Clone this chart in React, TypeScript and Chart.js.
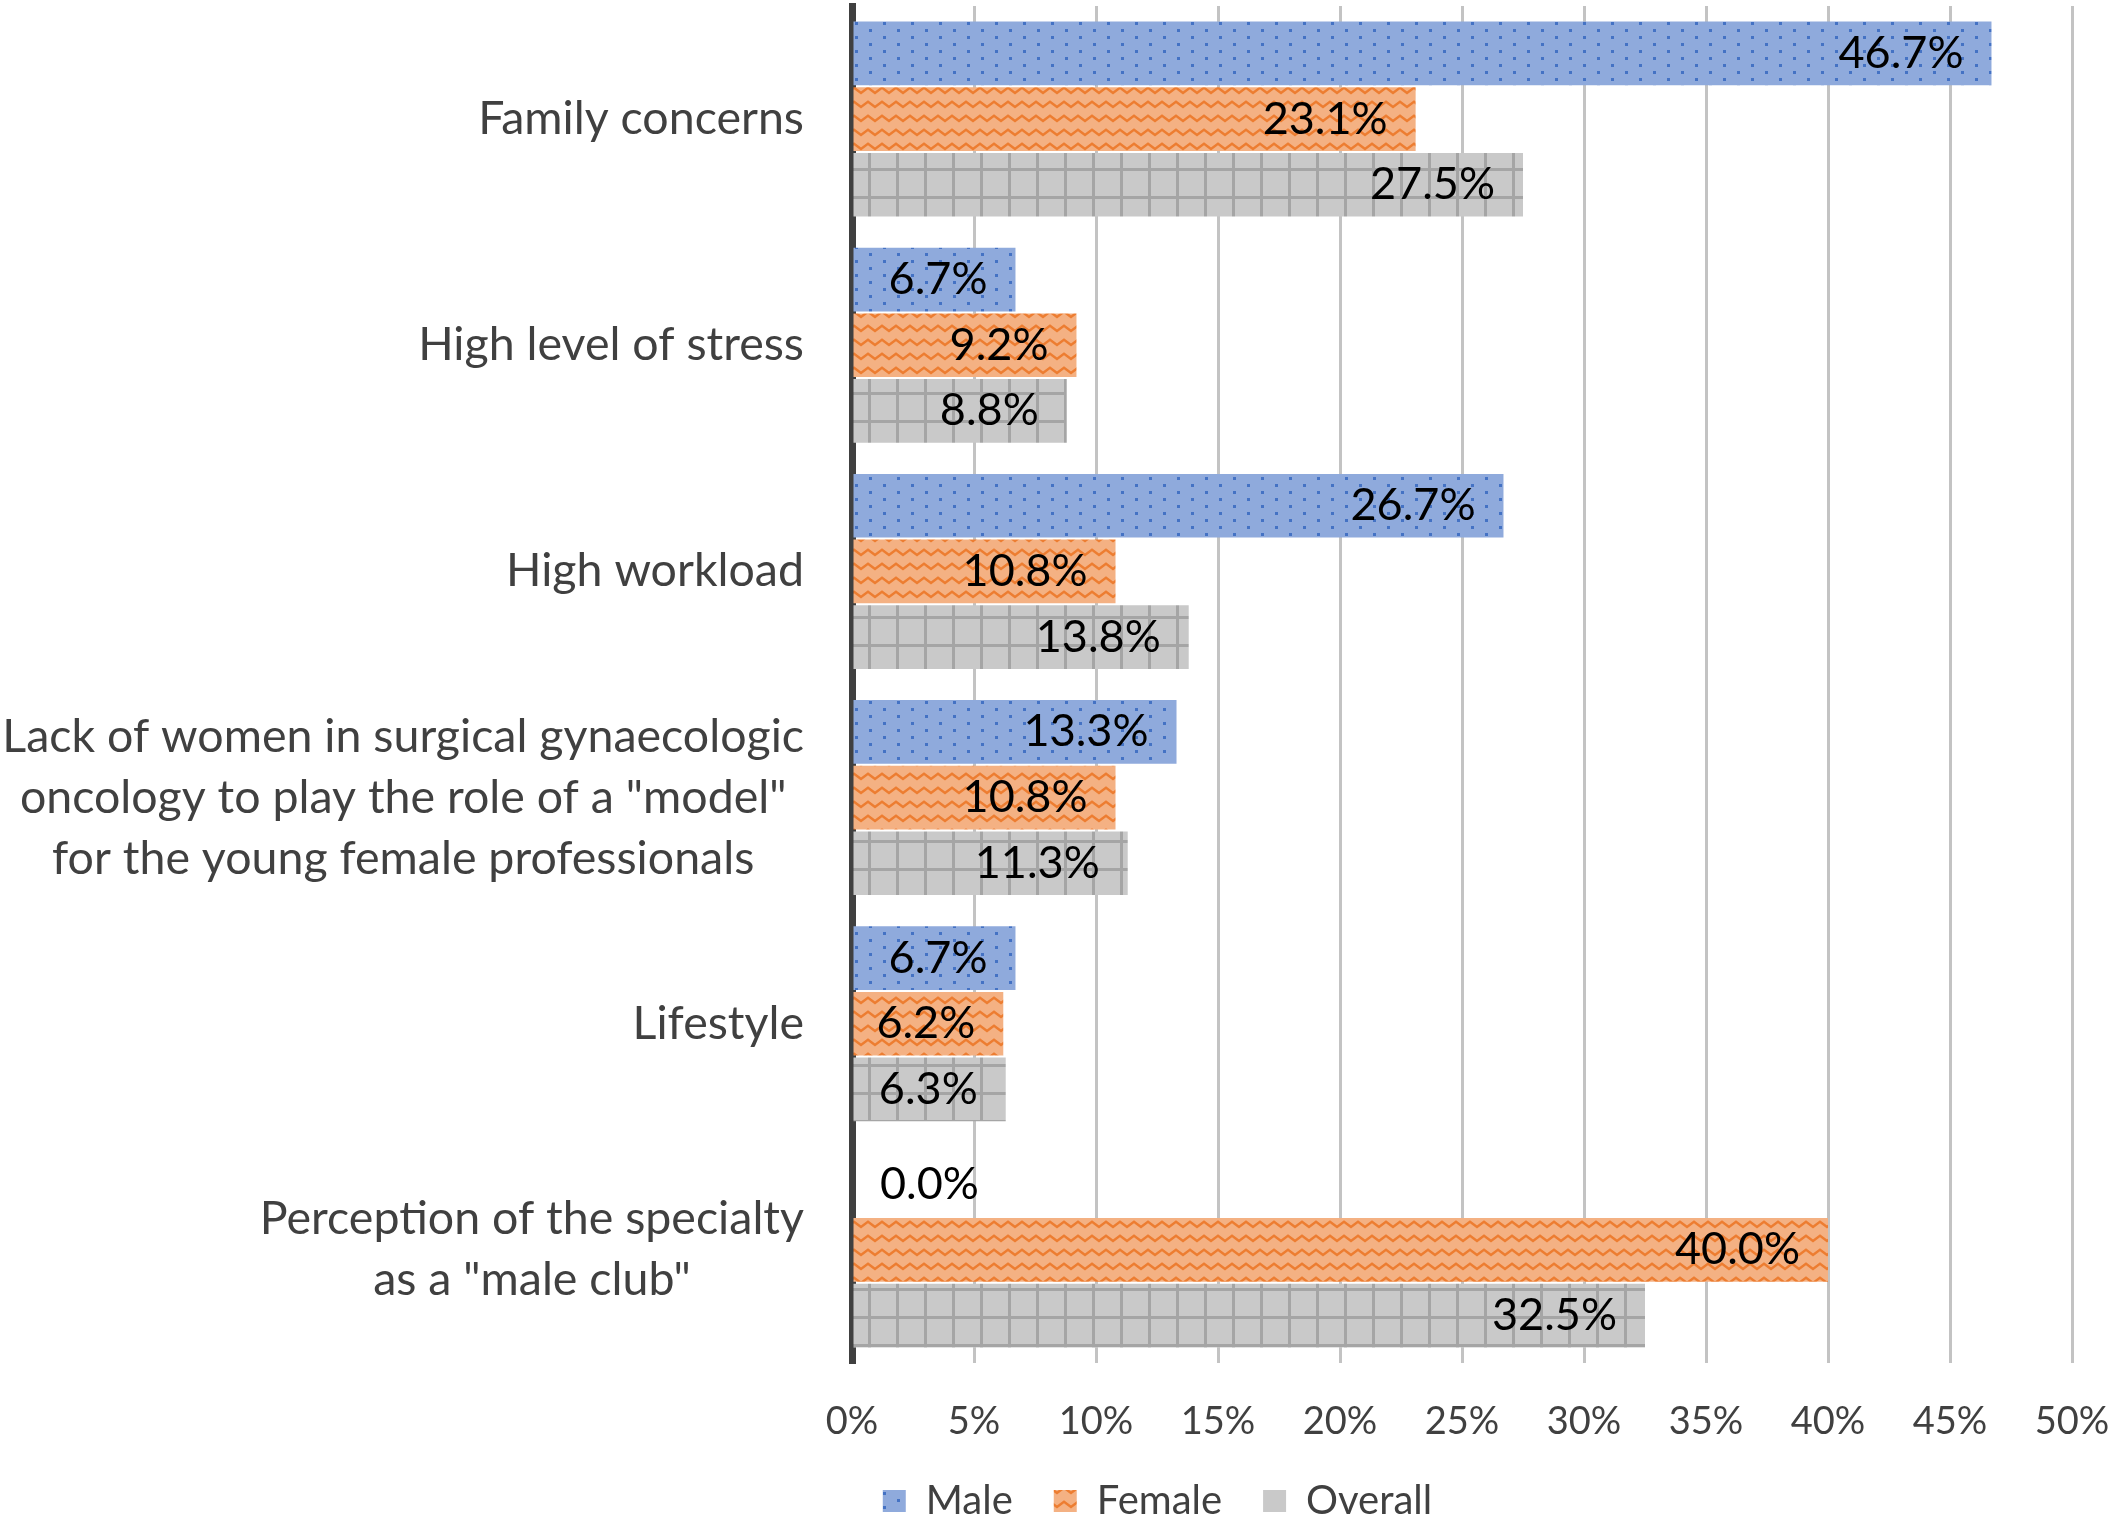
import React, { useEffect, useRef } from "react";
import { Chart, registerables, ChartConfiguration, Plugin } from "chart.js";

Chart.register(...registerables);

const categories: string[][] = [
  ["Family concerns"],
  ["High level of stress"],
  ["High workload"],
  [
    "Lack of women in surgical gynaecologic",
    'oncology to play the role of a "model"',
    "for the young female professionals",
  ],
  ["Lifestyle"],
  ["Perception of the specialty", 'as a "male club"'],
];
const seriesNames = ["Male", "Female", "Overall"];
const maleValues = [46.7, 6.7, 26.7, 13.3, 6.7, 0.0];
const femaleValues = [23.1, 9.2, 10.8, 10.8, 6.2, 40.0];
const overallValues = [27.5, 8.8, 13.8, 11.3, 6.3, 32.5];
const xTickValues = [0, 5, 10, 15, 20, 25, 30, 35, 40, 45, 50];

const FONT = "Lato";
const TEXT = "#404040";

function tile(
  ctx: CanvasRenderingContext2D,
  w: number,
  h: number,
  draw: (g: CanvasRenderingContext2D) => void
) {
  const c = document.createElement("canvas");
  c.width = w;
  c.height = h;
  const g = c.getContext("2d")!;
  draw(g);
  return ctx.createPattern(c, "repeat")!;
}

// dotted pattern for Male
function malePattern(ctx: CanvasRenderingContext2D) {
  return tile(ctx, 28, 14, (g) => {
    g.fillStyle = "#8faadc";
    g.fillRect(0, 0, 28, 14);
    g.fillStyle = "#4472c4";
    g.fillRect(1, 1, 3, 3);
    g.fillRect(15, 8, 3, 3);
  });
}

// zig zag pattern for Female
function femalePattern(ctx: CanvasRenderingContext2D) {
  return tile(ctx, 14, 14, (g) => {
    g.fillStyle = "#f4b183";
    g.fillRect(0, 0, 14, 14);
    g.strokeStyle = "#ed7d31";
    g.lineWidth = 2.5;
    g.beginPath();
    g.moveTo(-1, 3);
    g.lineTo(7, 9);
    g.lineTo(15, 3);
    g.stroke();
  });
}

// large grid pattern for Overall
function overallPattern(ctx: CanvasRenderingContext2D) {
  return tile(ctx, 28, 28, (g) => {
    g.fillStyle = "#c9c9c9";
    g.fillRect(0, 0, 28, 28);
    g.fillStyle = "#a5a5a5";
    g.fillRect(0, 0, 3, 28);
    g.fillRect(0, 0, 28, 3);
  });
}

const barLabels: Plugin<"bar"> = {
  id: "barLabels",
  afterDatasetsDraw(chart) {
    const { ctx } = chart;
    const pad = 28;
    ctx.save();
    ctx.font = `45px ${FONT}`;
    ctx.fillStyle = "#000000";
    ctx.textBaseline = "middle";
    chart.data.datasets.forEach((ds, di) => {
      const meta = chart.getDatasetMeta(di);
      meta.data.forEach((bar: any, i) => {
        const v = ds.data[i] as number;
        const text = v.toFixed(1) + "%";
        const w = ctx.measureText(text).width;
        const { x, y, base } = bar.getProps(["x", "y", "base"], true);
        if (x - base >= w + pad) {
          ctx.textAlign = "right";
          ctx.fillText(text, x - pad, y);
        } else {
          ctx.textAlign = "left";
          ctx.fillText(text, base + pad, y);
        }
      });
    });
    ctx.restore();
  },
};

// category labels: block right-aligned to the axis, lines centred in the block
const categoryLabels: Plugin<"bar"> = {
  id: "categoryLabels",
  afterDraw(chart) {
    const { ctx, chartArea } = chart;
    const yScale = chart.scales.y;
    const gap = 48;
    const lineH = 61;
    ctx.save();
    ctx.font = `46.5px ${FONT}`;
    ctx.fillStyle = TEXT;
    ctx.textBaseline = "middle";
    ctx.textAlign = "center";
    categories.forEach((lines, i) => {
      const y = yScale.getPixelForValue(i);
      const blockW = Math.max(...lines.map((l) => ctx.measureText(l).width));
      const cx = chartArea.left - gap - blockW / 2;
      lines.forEach((l, j) => {
        ctx.fillText(l, cx, y + (j - (lines.length - 1) / 2) * lineH);
      });
    });
    ctx.restore();
  },
};

const App = () => {
  const canvasRef = useRef<HTMLCanvasElement | null>(null);

  useEffect(() => {
    document.body.style.margin = "0";
    document.body.style.overflow = "hidden";
    let chart: Chart | null = null;
    let cancelled = false;

    const build = () => {
      if (cancelled || !canvasRef.current) return;
      const ctx = canvasRef.current.getContext("2d");
      if (!ctx) return;

      const config: ChartConfiguration<"bar"> = {
        type: "bar",
        data: {
          labels: categories.map((c) => c.join(" ")),
          datasets: [
            { label: seriesNames[0], data: maleValues, backgroundColor: malePattern(ctx) },
            { label: seriesNames[1], data: femaleValues, backgroundColor: femalePattern(ctx) },
            { label: seriesNames[2], data: overallValues, backgroundColor: overallPattern(ctx) },
          ],
        },
        options: {
          indexAxis: "y",
          responsive: false,
          animation: false,
          devicePixelRatio: 1,
          events: [],
          layout: { padding: { top: 6, left: 243, right: 45, bottom: -9 } },
          datasets: {
            bar: { categoryPercentage: 0.871, barPercentage: 0.97, borderWidth: 0 },
          },
          scales: {
            x: {
              min: 0,
              max: 50,
              afterBuildTicks: (scale) => {
                scale.ticks = xTickValues.map((v) => ({ value: v }));
              },
              afterFit: (scale) => {
                scale.height = 77;
                scale.paddingRight = 0;
              },
              grid: { color: "#c3c3c3", lineWidth: 3, drawTicks: false },
              border: { display: false },
              ticks: {
                padding: 36,
                color: TEXT,
                font: { family: FONT, size: 38 },
                callback: (v) => `${v}%`,
              },
            },
            y: {
              z: 1,
              afterFit: (scale) => {
                scale.width = 609;
              },
              grid: { drawOnChartArea: false, drawTicks: false },
              border: { display: true, color: "#404040", width: 7 },
              ticks: { display: false },
            },
          },
          plugins: {
            tooltip: { enabled: false },
            legend: {
              position: "bottom",
              labels: {
                boxWidth: 23,
                boxHeight: 22,
                padding: 41,
                color: TEXT,
                font: { family: FONT, size: 40 },
              },
            },
          },
        },
        plugins: [barLabels, categoryLabels],
      };

      chart = new Chart(ctx, config);
    };

    if (document.fonts && document.fonts.load) {
      document.fonts.load(`46px ${FONT}`).then(build, build);
    } else {
      build();
    }

    return () => {
      cancelled = true;
      if (chart) {
        chart.destroy();
        chart = null;
      }
    };
  }, []);

  return (
    <div style={{ width: 2117, height: 1522, background: "#ffffff" }}>
      <canvas ref={canvasRef} width="2117" height="1522"></canvas>
    </div>
  );
};

export default App;
